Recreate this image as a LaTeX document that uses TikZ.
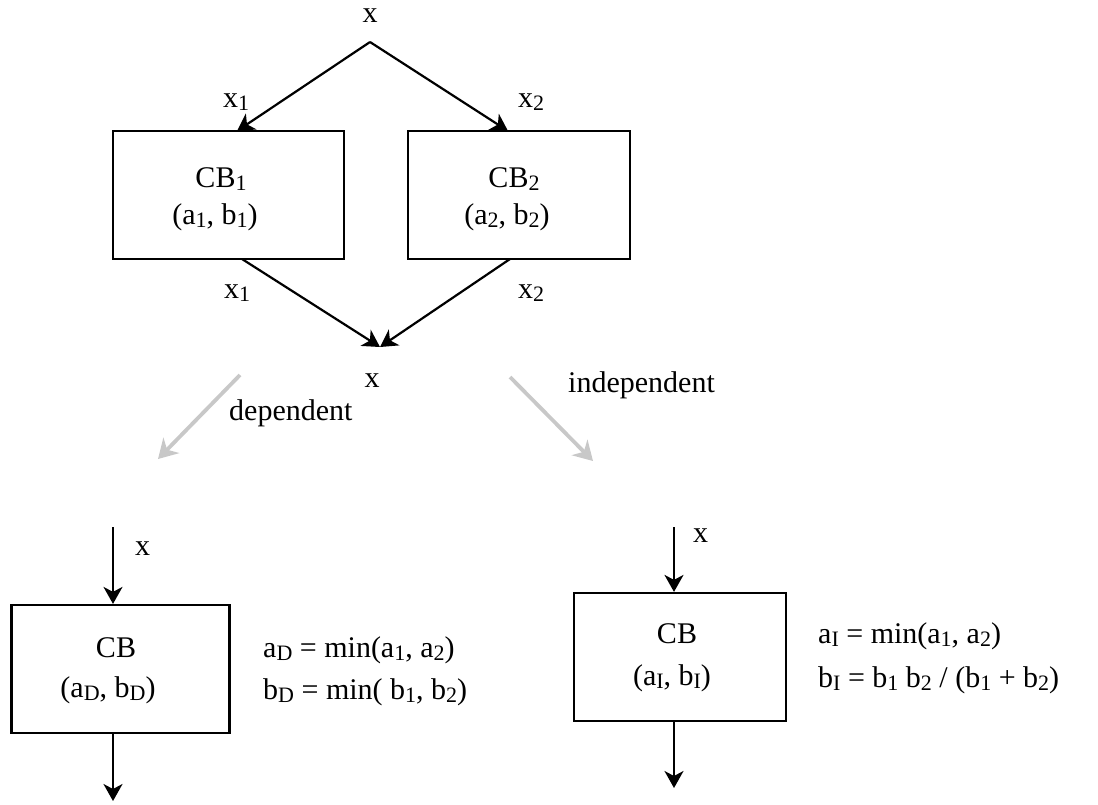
\documentclass[tikz,border=0pt]{standalone}
\usepackage{fontspec}
\setmainfont{Liberation Serif}
\usetikzlibrary{arrows.meta}
\definecolor{lightgrey}{RGB}{200,200,200}
\tikzset{
  blk/.style={draw, line width=2.2pt, inner sep=0pt},
  lbl/.style={inner sep=0pt, anchor=base, font=\fontsize{30}{38}\selectfont},
  conn/.style={line width=2.2pt, -{Stealth[length=17pt,width=19pt,inset=5pt]}},
  grey/.style={draw=lightgrey, line width=3.8pt, -{Stealth[length=19pt,width=22pt,inset=6pt]}},
}
\newcommand{\sbs}[1]{\raisebox{-3.5pt}{\fontsize{22}{24}\selectfont #1}}
\begin{document}
\begin{tikzpicture}[x=1pt,y=-1pt]
\useasboundingbox (0,0) rectangle (1098,804);
% top part
\node[lbl] (xtop) at (370,22) {x};
\coordinate (apex) at (370,42);
\node[blk, minimum width=231pt, minimum height=128pt] (cb1) at (228.5,195) {};
\node[blk, minimum width=222pt, minimum height=128pt] (cb2) at (519,195) {};
\node[lbl] (cb1a) at (221,187) {CB\sbs{1}};
\node[lbl] (cb1b) at (215,224) {(a\sbs{1}, b\sbs{1})};
\node[lbl] (cb2a) at (514,187) {CB\sbs{2}};
\node[lbl] (cb2b) at (507,224) {(a\sbs{2}, b\sbs{2})};
\coordinate (in1) at (237,131);
\coordinate (in2) at (508,131);
\draw[conn] (apex) -- (in1);
\draw[conn] (apex) -- (in2);
\node[lbl, anchor=base west] (x1a) at (223,107) {x\sbs{1}};
\node[lbl, anchor=base west] (x2a) at (518,107) {x\sbs{2}};
\coordinate (out1) at (242,259);
\coordinate (out2) at (510,259);
\coordinate (join) at (380,347);
\draw[conn] (out1) -- (join);
\draw[conn] (out2) -- (join);
\node[lbl, anchor=base west] (x1b) at (224,298) {x\sbs{1}};
\node[lbl, anchor=base west] (x2b) at (518,298) {x\sbs{2}};
\node[lbl] (xmid) at (372,387) {x};
% grey arrows
\coordinate (g1s) at (240,375);
\coordinate (g1e) at (158,459);
\coordinate (g2s) at (510,377);
\coordinate (g2e) at (593,461);
\draw[grey] (g1s) -- (g1e);
\draw[grey] (g2s) -- (g2e);
\node[lbl, anchor=base west] (dep) at (229,420) {dependent};
\node[lbl, anchor=base west] (indep) at (568,392) {independent};
% bottom left
\node[blk, minimum width=218pt, minimum height=128pt] (cbd) at (120.5,669) {};
\node[lbl] (cbda) at (116,657) {CB};
\node[lbl] (cbdb) at (108,697) {(a\sbs{D}, b\sbs{D})};
\coordinate (dtop) at (113,527);
\coordinate (dbot) at (113,801);
\draw[conn] (dtop) -- (cbd.north -| dtop);
\draw[conn] (cbd.south -| dbot) -- (dbot);
\node[lbl, anchor=base west] (xd) at (135,555) {x};
\node[lbl, anchor=base west] (eqd1) at (263,657) {a\sbs{D} = min(a\sbs{1}, a\sbs{2})};
\node[lbl, anchor=base west] (eqd2) at (263,699) {b\sbs{D} = min( b\sbs{1}, b\sbs{2})};
% bottom right
\node[blk, minimum width=212pt, minimum height=128pt] (cbi) at (680,657) {};
\node[lbl] (cbia) at (677,643) {CB};
\node[lbl] (cbib) at (672,685) {(a\sbs{I}, b\sbs{I})};
\coordinate (itop) at (674,527);
\coordinate (ibot) at (674,788);
\draw[conn] (itop) -- (cbi.north -| itop);
\draw[conn] (cbi.south -| ibot) -- (ibot);
\node[lbl, anchor=base west] (xi) at (693,542) {x};
\node[lbl, anchor=base west] (eqi1) at (818,643) {a\sbs{I} = min(a\sbs{1}, a\sbs{2})};
\node[lbl, anchor=base west] (eqi2) at (818,687) {b\sbs{I} = b\sbs{1} b\sbs{2} / (b\sbs{1} + b\sbs{2})};
\end{tikzpicture}
\end{document}
